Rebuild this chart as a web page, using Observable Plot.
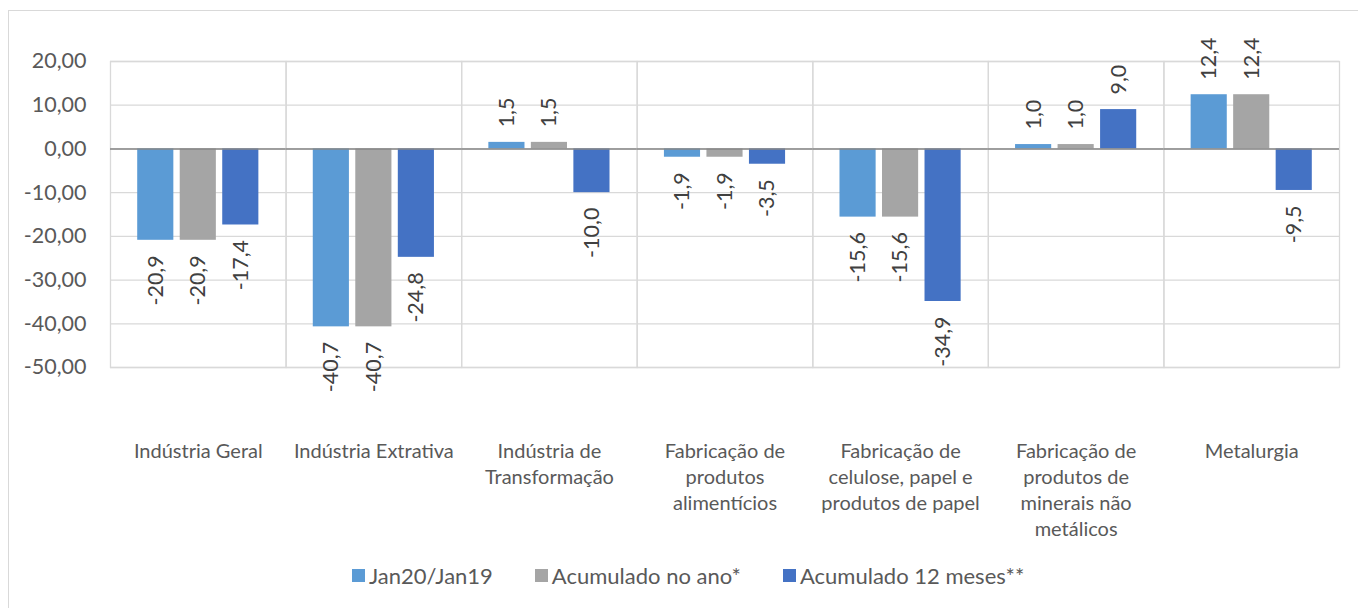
<!DOCTYPE html>
<html><head><meta charset="utf-8">
<script src="https://cdn.jsdelivr.net/npm/d3@7"></script>
<script src="https://cdn.jsdelivr.net/npm/@observablehq/plot@0.6"></script>
<style>
body{margin:0;background:#fff;font-family:Lato,sans-serif}
#wrap{position:relative;width:1358px;height:608px;overflow:hidden;background:#fff}
#border{position:absolute;left:8px;top:10px;width:1400px;height:700px;border-left:1px solid #d9d9d9;border-top:1px solid #d9d9d9;box-sizing:border-box}
#chart{position:absolute;left:0;top:0}
#legend{position:absolute;top:562px;left:352px;display:flex;align-items:center;font-family:Lato,sans-serif;font-size:22px;color:#595959;white-space:nowrap}
.item{display:flex;align-items:center;margin-right:42px}
.sw{width:13px;height:13px;margin-right:4px}
</style></head>
<body>
<div id="wrap"><div id="border"></div><div id="chart"></div><div id="legend"></div></div>
<script>
const categories = ["Indústria Geral","Indústria Extrativa","Indústria de\nTransformação","Fabricação de\nprodutos\nalimentícios","Fabricação de\ncelulose, papel e\nprodutos de papel","Fabricação de\nprodutos de\nminerais não\nmetálicos","Metalurgia"];
const series = ["Jan20/Jan19","Acumulado no ano*","Acumulado 12 meses**"];
const jan20jan19 = [-20.9,-40.7,1.5,-1.9,-15.6,1.0,12.4];
const acumuladoAno = [-20.9,-40.7,1.5,-1.9,-15.6,1.0,12.4];
const acumulado12 = [-17.4,-24.8,-10.0,-3.5,-34.9,9.0,-9.5];
const yTicks = [20,10,0,-10,-20,-30,-40,-50];
const colors = ["#5b9bd5","#a5a5a5","#4472c4"];

const seriesValues = [jan20jan19, acumuladoAno, acumulado12];
const data = categories.flatMap((c,i)=>series.map((s,j)=>({cat:c, series:s, value:seriesValues[j][i]})));
const fmt1 = v => v.toFixed(1).replace(".", ",");
const fmt2 = v => v.toFixed(2).replace(".", ",");

const W = 1358, H = 555;
const chart = Plot.plot({
  width: W, height: H,
  marginTop: 61, marginBottom: H - 367, marginLeft: 110, marginRight: W - 1339,
  style: {fontFamily: "Lato, sans-serif", fontSize: "20px", color: "#595959", background: "transparent", overflow: "visible"},
  fx: {domain: categories, padding: 0, round: false, label: null},
  x: {domain: series, paddingInner: 0.15, paddingOuter: 0.64, round: false, axis: null},
  y: {domain: [-50, 20], label: null},
  color: {domain: series, range: colors},
  marks: [
    Plot.gridY(yTicks, {stroke: "#d9d9d9", strokeOpacity: 1, strokeWidth: 1.3}),
    Plot.frame({stroke: "#d9d9d9", strokeWidth: 1.3}),
    Plot.barY(data, {fx: "cat", x: "series", y: "value", fill: "series"}),
    Plot.ruleY([0], {stroke: "#868686", strokeWidth: 1.6}),
    Plot.text(data.filter(d => d.value < 0), {fx: "cat", x: "series", y: "value", text: d => fmt1(d.value), rotate: -90, textAnchor: "end", dy: 15, fill: "#404040", fontSize: 21.5}),
    Plot.text(data.filter(d => d.value >= 0), {fx: "cat", x: "series", y: "value", text: d => fmt1(d.value), rotate: -90, textAnchor: "start", dy: -15, fill: "#404040", fontSize: 21.5}),
    Plot.axisY({ticks: yTicks, tickSize: 0, tickPadding: 24, tickFormat: fmt2, fontSize: 21.5, fill: "#595959", label: null}),
    Plot.axisFx({anchor: "bottom", tickSize: 0, tickPadding: 72, lineHeight: 1.3, fontSize: 20, fill: "#595959", label: null})
  ]
});
document.getElementById("chart").append(chart);

const legend = document.getElementById("legend");
series.forEach((s, i) => {
  const it = document.createElement("div"); it.className = "item";
  const sw = document.createElement("div"); sw.className = "sw"; sw.style.background = colors[i];
  const t = document.createElement("span"); t.textContent = s;
  it.append(sw, t); legend.append(it);
});
</script>
</body></html>
